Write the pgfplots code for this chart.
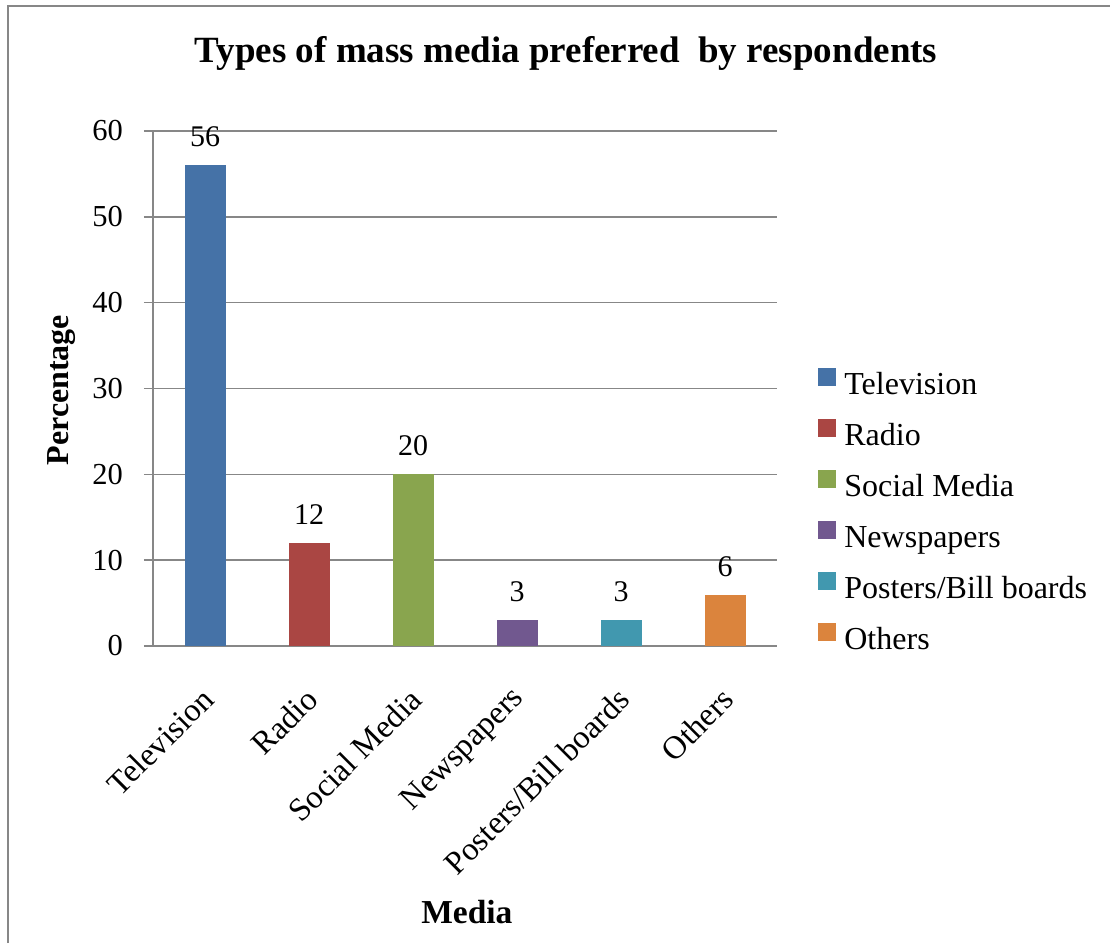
\documentclass[border=0pt]{standalone}
\usepackage{fontspec}
\setmainfont{Liberation Serif}
\usepackage{pgfplots}
\pgfplotsset{compat=1.18}
\definecolor{cTV}{HTML}{4572A7}
\definecolor{cRadio}{HTML}{AA4643}
\definecolor{cSocial}{HTML}{89A54E}
\definecolor{cNews}{HTML}{71588F}
\definecolor{cPost}{HTML}{4198AF}
\definecolor{cOther}{HTML}{DB843D}
\definecolor{gridgray}{HTML}{878787}
\begin{document}
\begin{tikzpicture}[x=1pt,y=1pt]
\useasboundingbox (0,0) rectangle (1110,943);
\draw[color=gridgray, line width=2.5pt] (8,0) -- (8,937) -- (1110,937);
\begin{axis}[
  at={(153pt,297pt)}, anchor=south west,
  scale only axis, width=624pt, height=515pt,
  xmin=-0.5, xmax=5.5, ymin=0, ymax=60,
  ytick={0,10,...,60},
  xtick={0,1,2,3,4,5},
  xticklabels={Television,Radio,Social Media,Newspapers,Posters/Bill boards,Others},
  ybar, bar width=41pt, bar shift=0pt,
  axis x line*=bottom, axis y line*=left,
  axis line style={color=gridgray, line width=1.5pt},
  ymajorgrids, grid style={color=gridgray, line width=1.5pt},
  x tick style={draw=none},
  y tick style={color=gridgray, line width=1.5pt},
  tick align=outside, major tick length=9pt,
  /pgf/number format/assume math mode=true,
  yticklabel style={font=\fontsize{30.5}{30.5}\selectfont, inner sep=0pt, xshift=-21pt},
  xticklabel style={font=\fontsize{32.5}{32.5}\selectfont, inner sep=0pt, xshift=3pt, yshift=-39pt, rotate=45, anchor=east},
  nodes near coords,
  every node near coord/.append style={font=\fontsize{30}{30}\selectfont, anchor=south, inner sep=0pt, yshift=18pt, color=black},
  title={Types of mass media preferred~ by respondents},
  title style={at={(axis description cs:0.662,1.138)}, anchor=center, font=\bfseries\fontsize{37}{37}\selectfont},
  xlabel={Media},
  xlabel style={at={(axis description cs:0.503,-0.517)}, anchor=center, font=\bfseries\fontsize{33.5}{33.5}\selectfont},
  ylabel={Percentage},
  ylabel style={at={(axis description cs:-0.147,0.497)}, anchor=center, font=\bfseries\fontsize{32}{32}\selectfont},
  legend cell align=left,
  legend image code/.code={\fill[#1] (0pt,1pt) rectangle (18pt,19pt);},
  legend style={at={(axis description cs:1.066,0.540)}, anchor=north west, draw=none, fill=none, inner sep=0pt, row sep=18pt,
    font=\fontsize{32}{32}\selectfont, nodes={inner sep=0pt, text height=21pt, text depth=7pt},
    /tikz/every odd column/.append style={column sep=8pt}},
]
\addplot[fill=cTV, draw=none] coordinates {(0,56)};
\addplot[fill=cRadio, draw=none] coordinates {(1,12)};
\addplot[fill=cSocial, draw=none] coordinates {(2,20)};
\addplot[fill=cNews, draw=none] coordinates {(3,3)};
\addplot[fill=cPost, draw=none] coordinates {(4,3)};
\addplot[fill=cOther, draw=none] coordinates {(5,6)};
\legend{Television,Radio,Social Media,Newspapers,Posters/Bill boards,Others}
\end{axis}
\end{tikzpicture}
\end{document}
